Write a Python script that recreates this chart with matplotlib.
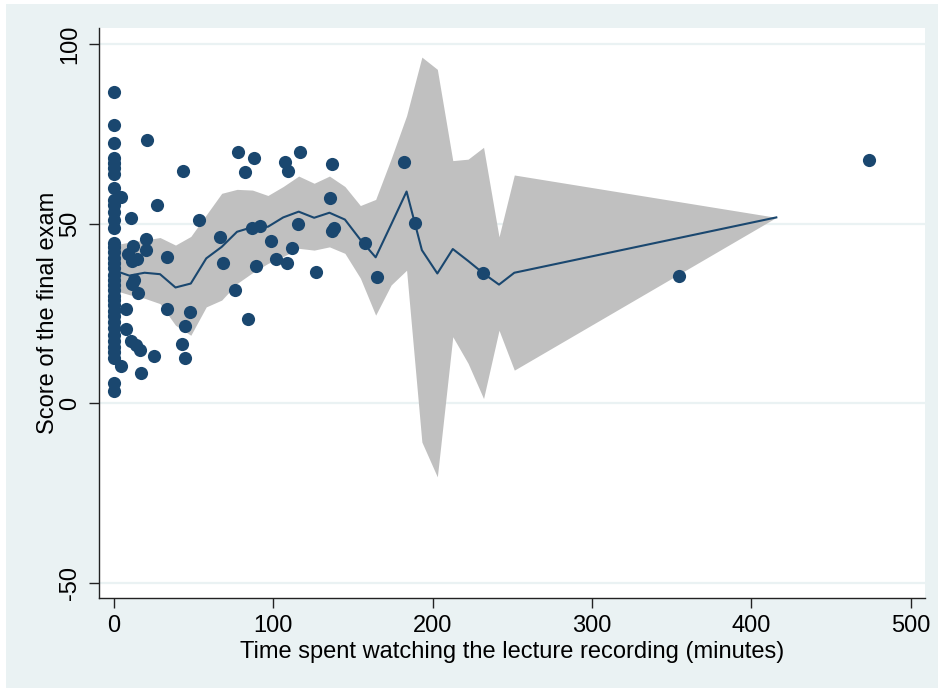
import matplotlib
matplotlib.use("Agg")
import matplotlib.pyplot as plt
from matplotlib.patches import Rectangle

# Students watching exactly zero minutes
zero_scores = [86.6, 77.4, 72.4, 68.2, 66.9, 65.5, 63.8, 59.9, 56.5, 55.2, 53.2,
               51.0, 48.7, 44.6, 43.5, 42.1, 40.4, 39.0, 37.6, 35.7, 34.3, 32.9,
               31.5, 29.8, 28.7, 27.3, 25.6, 24.2, 22.6, 20.9, 18.9, 17.3, 15.6,
               14.2, 12.5, 5.6, 3.3]

# Students with positive watching time
watch_minutes = [4.4, 10.7, 20.6, 19.9, 20.5, 12.1, 9.2, 14.3, 11.5, 12.4, 11.1,
                 15.3, 7.5, 7.4, 11.0, 13.8, 16.3, 4.8, 16.8, 27.4, 33.1, 33.5,
                 25.3, 43.4, 42.5, 44.6, 44.9, 47.7, 53.4, 66.5, 68.2, 75.8, 78.0,
                 82.2, 83.9, 86.5, 88.1, 89.1, 91.6, 98.9, 101.5, 107.4, 108.8,
                 109.5, 112.1, 115.3, 116.8, 126.8, 135.4, 137.1, 136.8, 138.2,
                 157.5, 165.3, 182.3, 189.0, 231.4, 354.8, 474.0]
watch_scores = [57.3, 51.6, 73.3, 45.6, 42.6, 43.7, 41.5, 40.0, 39.5, 34.4, 33.3,
                30.8, 26.2, 20.6, 17.4, 16.1, 14.8, 10.3, 8.5, 55.2, 40.6, 26.2,
                13.2, 64.6, 16.5, 21.5, 12.5, 25.3, 50.9, 46.2, 39.0, 31.5, 69.8,
                64.3, 23.4, 48.7, 68.1, 38.2, 49.2, 45.2, 40.2, 67.2, 38.9,
                64.6, 43.3, 49.9, 69.8, 36.6, 57.0, 66.5, 48.0, 48.8,
                44.5, 35.0, 67.2, 50.2, 36.1, 35.4, 67.7]

# Smoothed mean score with its confidence band
fit_minutes = [0, 9.7, 19.3, 29.0, 38.7, 48.3, 58.0, 67.7, 77.3, 87.0, 96.7,
               106.3, 116.0, 125.7, 135.3, 145.0, 154.7, 164.3, 174.0, 183.7,
               193.3, 203.0, 212.7, 222.3, 232.0, 241.7, 251.3, 415.7]
fit_mean = [37.0, 35.5, 36.3, 35.9, 32.2, 33.3, 40.3, 43.5, 47.7, 49.0, 49.1,
            51.7, 53.3, 51.6, 53.0, 51.1, 45.5, 40.6, 49.7, 58.9,
            42.6, 36.1, 42.9, 39.6, 36.1, 33.0, 36.3, 51.7]
fit_upper = [44.0, 44.8, 45.4, 46.1, 44.0, 46.4, 52.4, 58.4, 59.5, 59.3, 57.8,
             60.3, 63.2, 61.2, 63.2, 60.3, 55.0, 56.7, 68.0, 80.0,
             96.3, 92.9, 67.5, 67.9, 71.2, 46.3, 63.5, 51.7]
fit_lower = [31.5, 30.2, 29.2, 27.7, 21.7, 18.9, 26.8, 28.7, 33.3, 36.3, 38.9,
             40.8, 43.1, 42.6, 43.5, 41.7, 34.8, 24.5, 32.9, 37.0,
             -10.8, -20.5, 18.5, 11.1, 1.3, 20.3, 9.2, 51.7]

x_ticks = [0, 100, 200, 300, 400, 500]
y_ticks = [-50, 0, 50, 100]

navy = "#1A476F"
outer_bg = "#EAF2F3"

plt.rcParams["font.family"] = ["Liberation Sans", "DejaVu Sans"]
plt.rcParams["axes.unicode_minus"] = False

W, H = 938, 688
fig = plt.figure(figsize=(W / 100, H / 100), dpi=100)
fig.patch.set_facecolor("white")
# graph region background, leaving a thin white edge on the left and top
fig.patches.append(Rectangle((6 / W, 0), 1 - 6 / W, 1 - 4 / H,
                             transform=fig.transFigure, facecolor=outer_bg,
                             edgecolor="none", zorder=-10))

left, right, top, bottom = 99, 925, 28, 598
ax = fig.add_axes([left / W, 1 - bottom / H, (right - left) / W, (bottom - top) / H])
ax.set_facecolor("white")

ax.fill_between(fit_minutes, fit_lower, fit_upper, color="#C0C0C0", linewidth=0, zorder=1)
ax.plot(fit_minutes, fit_mean, color=navy, linewidth=1.5, zorder=2)
ax.scatter([0] * len(zero_scores), zero_scores, s=90, color=navy, linewidths=0, zorder=3)
ax.scatter(watch_minutes, watch_scores, s=90, color=navy, linewidths=0, zorder=3)

ax.set_xlim(-9.3, 509)
ax.set_ylim(-54.2, 104.4)
ax.set_xticks(x_ticks)
ax.set_yticks(y_ticks)
ax.grid(axis="y", color=outer_bg, linewidth=1.6, zorder=0)
ax.set_axisbelow(True)

for side in ("top", "right"):
    ax.spines[side].set_visible(False)
for side in ("left", "bottom"):
    ax.spines[side].set_color("#222222")
    ax.spines[side].set_linewidth(1.0)

ax.tick_params(axis="both", direction="out", length=7, width=1.0, color="#222222",
               labelsize=17, labelcolor="black")
ax.tick_params(axis="x", pad=5)
ax.tick_params(axis="y", pad=6)
for lab in ax.get_yticklabels():
    lab.set_rotation(90)
    lab.set_va("center")

ax.set_xlabel("Time spent watching the lecture recording (minutes)", fontsize=17, labelpad=3)
ax.set_ylabel("Score of the final exam", fontsize=17, labelpad=0)

fig.savefig("out.png", dpi=100)
